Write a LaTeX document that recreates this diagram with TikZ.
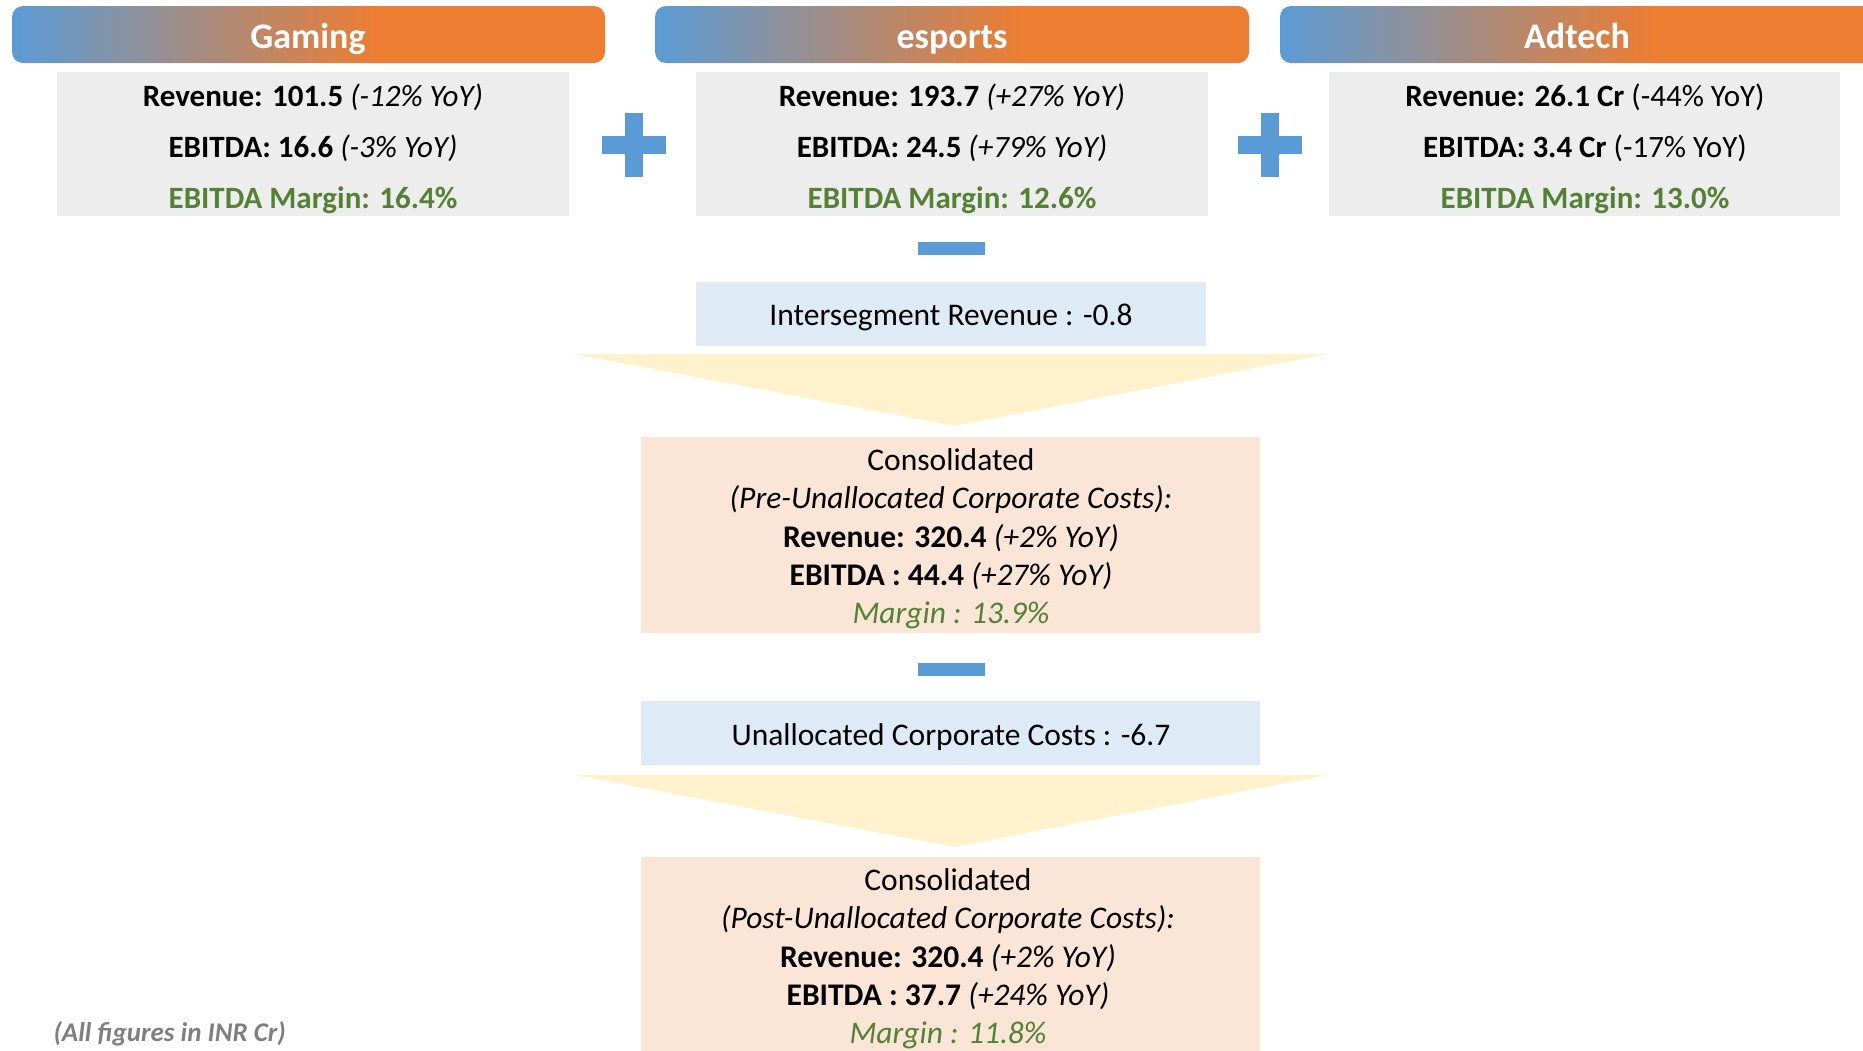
\documentclass[tikz,border=0pt]{standalone}
\usepackage{fontspec}
\setmainfont{Carlito}
\definecolor{sblue}{HTML}{5B9BD5}
\definecolor{sorange}{HTML}{ED7D31}
\definecolor{boxgray}{HTML}{EDEDED}
\definecolor{mgreen}{HTML}{548235}
\definecolor{lblue}{HTML}{DEEBF7}
\definecolor{peach}{HTML}{FBE5D6}
\definecolor{chev}{HTML}{FFF2CC}
\definecolor{notegray}{HTML}{7F7F7F}
\pgfdeclarehorizontalshading{segshade}{100bp}{color(0bp)=(sblue); color(25bp)=(sblue); color(56bp)=(sorange); color(100bp)=(sorange)}
\tikzset{
  header/.style={rounded corners=11pt, shading=segshade},
  headtext/.style={text=white, anchor=base, font=\fontsize{36}{40}\selectfont\bfseries},
  segbox/.style={fill=boxgray, draw=none},
  segtext/.style={align=center, font=\fontsize{31}{51}\selectfont},
  conbox/.style={fill=peach, draw=none},
  context/.style={align=center, font=\fontsize{31.5}{38.3}\selectfont},
  bluebox/.style={fill=lblue, draw=none},
  bluetext/.style={font=\fontsize{31.5}{36}\selectfont},
  opsign/.style={fill=sblue, draw=none},
  chevron/.style={fill=chev, draw=none},
}
\newcommand{\gr}[1]{\textcolor{mgreen}{#1}}
\begin{document}
\begin{tikzpicture}[x=1pt,y=-1pt]
\useasboundingbox (0,0) rectangle (1863,1050);
\clip (0,0) rectangle (1863,1050);
% headers
\path[header] (12,6) rectangle (605,63);
\node[headtext] (hgaming) at (308,48) {Gaming};
\path[header] (655,6) rectangle (1249,63);
\node[headtext] (hesports) at (952,48) {esports};
\path[header] (1280,6) rectangle (1885,63);
\node[headtext] (hadtech) at (1577,48) {Adtech};
% segment boxes
\fill[segbox] (57,72) rectangle (569,216);
\node[segtext] (tgaming) at (313,148.5) {\textbf{Revenue: 101.5} \textit{(-12\% YoY)}\\ \textbf{EBITDA: 16.6} \textit{(-3\% YoY)}\\ \gr{\textbf{EBITDA Margin: 16.4\%}}};
\fill[segbox] (696,72) rectangle (1208,216);
\node[segtext] (tesports) at (952,148.5) {\textbf{Revenue: 193.7} \textit{(+27\% YoY)}\\ \textbf{EBITDA: 24.5} \textit{(+79\% YoY)}\\ \gr{\textbf{EBITDA Margin: 12.6\%}}};
\fill[segbox] (1329,72) rectangle (1840,216);
\node[segtext] (tadtech) at (1585,148.5) {\textbf{Revenue: 26.1 Cr} (-44\% YoY)\\ \textbf{EBITDA: 3.4 Cr} (-17\% YoY)\\ \gr{\textbf{EBITDA Margin: 13.0\%}}};
% plus signs
\fill[opsign] (602,136) rectangle (666,154);
\fill[opsign] (625,113) rectangle (643,177);
\fill[opsign] (1238,136) rectangle (1302,154);
\fill[opsign] (1261,113) rectangle (1279,177);
% minus 1
\fill[opsign] (918,242) rectangle (985,255);
% intersegment
\fill[bluebox] (696,282) rectangle (1206,346);
\node[bluetext] (inter) at (951,317) {Intersegment Revenue : -0.8};
% chevron 1
\fill[chevron] (574,354) -- (1328,354) -- (954,426) -- cycle;
% consolidated 1
\fill[conbox] (641,437) rectangle (1260,633);
\node[context] (con1) at (951,539) {Consolidated\\ \textit{(Pre-Unallocated Corporate Costs):}\\ \textbf{Revenue: 320.4} \textit{(+2\% YoY)}\\ \textbf{EBITDA : 44.4} \textit{(+27\% YoY)}\\ \gr{\textit{Margin : 13.9\%}}};
% minus 2
\fill[opsign] (918,663) rectangle (985,676);
% unallocated
\fill[bluebox] (641,701) rectangle (1260,765);
\node[bluetext] (unal) at (951,737) {Unallocated Corporate Costs : -6.7};
% chevron 2
\fill[chevron] (574,775) -- (1328,775) -- (954,847) -- cycle;
% consolidated 2
\fill[conbox] (641,857) rectangle (1260,1060);
\node[context] (con2) at (948,959) {Consolidated\\ \textit{(Post-Unallocated Corporate Costs):}\\ \textbf{Revenue: 320.4} \textit{(+2\% YoY)}\\ \textbf{EBITDA : 37.7} \textit{(+24\% YoY)}\\ \gr{\textit{Margin : 11.8\%}}};
% footnote
\node[text=notegray, font=\fontsize{27}{30}\selectfont\bfseries\itshape, anchor=west] (note) at (50,1034) {(All figures in INR Cr)};
\end{tikzpicture}
\end{document}
